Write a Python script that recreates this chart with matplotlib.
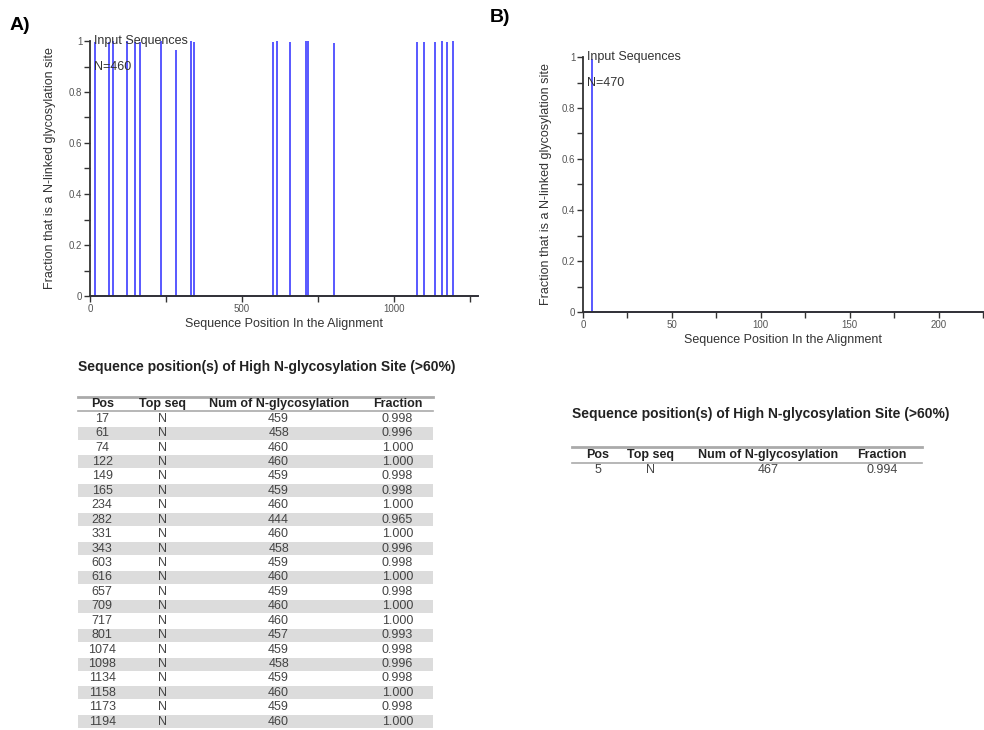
import matplotlib.pyplot as plt
from matplotlib.ticker import MultipleLocator

plt.rcParams['font.family'] = ['Liberation Sans', 'DejaVu Sans']

# Panel A data (table of high N-glycosylation sites)
pos_a = [17, 61, 74, 122, 149, 165, 234, 282, 331, 343, 603, 616,
         657, 709, 717, 801, 1074, 1098, 1134, 1158, 1173, 1194]
count_a = [459, 458, 460, 460, 459, 459, 460, 444, 460, 458, 459, 460,
           459, 460, 460, 457, 459, 458, 459, 460, 459, 460]
frac_a = [0.998, 0.996, 1.000, 1.000, 0.998, 0.998, 1.000, 0.965, 1.000, 0.996, 0.998, 1.000,
          0.998, 1.000, 1.000, 0.993, 0.998, 0.996, 0.998, 1.000, 0.998, 1.000]
n_a = 460

# Panel B data
pos_b = [5]
count_b = [467]
frac_b = [0.994]
n_b = 470

headers = ["Pos", "Top seq", "Num of N-glycosylation", "Fraction"]
W, H = 984, 730


def px_axes(fig, x0, y0, x1, y1):
    # pixel box (top-left origin) -> figure axes
    return fig.add_axes([x0 / W, 1 - y1 / H, (x1 - x0) / W, (y1 - y0) / H])


def site_plot(ax, pos, frac, xmax, major, n, ypad):
    ax.vlines(pos, 0, frac, color='#4b4bff', lw=1.3, clip_on=False)
    ax.plot([0, xmax], [0, 0], color='#1c1c6e', lw=1.2, clip_on=False)
    ax.set_xlim(0, xmax)
    ax.set_ylim(0, 1)
    for s in ['top', 'right']:
        ax.spines[s].set_visible(False)
    for s in ['left', 'bottom']:
        ax.spines[s].set_color('#333333')
        ax.spines[s].set_linewidth(1.3)
    ax.xaxis.set_major_locator(MultipleLocator(major))
    ax.xaxis.set_minor_locator(MultipleLocator(major / 2))
    ax.yaxis.set_minor_locator(MultipleLocator(0.1))
    ax.set_yticks([0, 0.2, 0.4, 0.6, 0.8, 1.0])
    ax.set_yticklabels(["0", "0.2", "0.4", "0.6", "0.8", "1"])
    ax.tick_params(which='both', direction='out', color='#333333', width=1, labelsize=7,
                   labelcolor='#555555', pad=1.5, length=4)
    ax.set_xlabel("Sequence Position In the Alignment", fontsize=9, color='#333333', labelpad=3)
    ax.set_ylabel("Fraction that is a N-linked glycosylation site", fontsize=9, color='#333333',
                  labelpad=ypad)
    ax.text(0.01, 1.0, "Input Sequences", transform=ax.transAxes, fontsize=9,
            color='#333333', va='center', ha='left')
    ax.text(0.01, 0.9, f"N={n}", transform=ax.transAxes, fontsize=9,
            color='#333333', va='center', ha='left')


def site_table(ax, pos, count, frac, colx):
    nrows = len(pos) + 1
    ax.set_xlim(0, 1)
    ax.set_ylim(nrows, 0)
    ax.axis('off')
    ax.plot([0, 1], [0, 0], color='#aaaaaa', lw=2, clip_on=False)
    ax.plot([0, 1], [1, 1], color='#aaaaaa', lw=1.2, clip_on=False)
    for j, h in enumerate(headers):
        ax.text(colx[j], 0.5, h, fontsize=9, fontweight='bold', ha='center', va='center',
                color='#222222')
    for i in range(len(pos)):
        r = i + 1
        if i % 2 == 1:
            ax.axhspan(r + 0.05, r + 0.95, color='#dcdcdc', lw=0)
        vals = [str(pos[i]), "N", str(count[i]), f"{frac[i]:.3f}"]
        for j, v in enumerate(vals):
            ax.text(colx[j], r + 0.5, v, fontsize=9, ha='center', va='center', color='#444444')


fig = plt.figure(figsize=(W / 100, H / 100), dpi=100)

ax_a = px_axes(fig, 90, 41, 478, 296)
site_plot(ax_a, pos_a, frac_a, 1276, 500, n_a, 9)

ax_b = px_axes(fig, 583, 57, 983, 312)
site_plot(ax_b, pos_b, frac_b, 225, 50, n_b, 7)

fig.text(10 / W, 1 - 26 / H, "A)", fontsize=14, fontweight='bold', va='center')
fig.text(490 / W, 1 - 18 / H, "B)", fontsize=14, fontweight='bold', va='center')

fig.text(78 / W, 1 - 367 / H, "Sequence position(s) of High N-glycosylation Site (>60%)",
         fontsize=10, fontweight='bold', va='center', color='#222222')
fig.text(572 / W, 1 - 414 / H, "Sequence position(s) of High N-glycosylation Site (>60%)",
         fontsize=10, fontweight='bold', va='center', color='#222222')

tab_a = px_axes(fig, 78, 397, 433, 729)
site_table(tab_a, pos_a, count_a, frac_a, [0.068, 0.237, 0.565, 0.9])

tab_b = px_axes(fig, 572, 447, 922, 478)
site_table(tab_b, pos_b, count_b, frac_b, [0.074, 0.223, 0.56, 0.886])

fig.savefig("out.png", dpi=100)
